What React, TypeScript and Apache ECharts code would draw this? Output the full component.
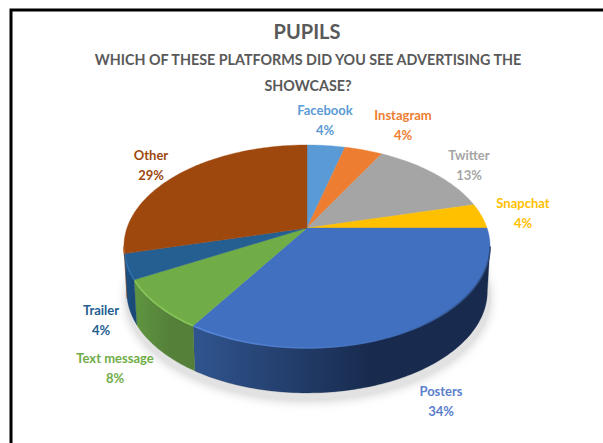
import React, { useEffect, useRef } from "react";
import * as echarts from "echarts";

const categories = ["Facebook", "Instagram", "Twitter", "Snapchat", "Posters", "Text message", "Trailer", "Other"];
const shares = [4, 4, 13, 4, 34, 8, 4, 29];
const faceColors = ["#5B9BD5", "#ED7D31", "#A5A5A5", "#FFC000", "#4070BF", "#70AD47", "#255E91", "#9E480E"];
const labelColors = ["#5B9BD5", "#ED7D31", "#A5A5A5", "#FFC000", "#5B80CC", "#70AD47", "#255E91", "#9E480E"];
const sideFrom = ["#4A80B0", "#C0662A", "#888888", "#D0A000", "#30558F", "#5F9640", "#1D5488", "#7C380B"];
const sideTo = ["#4A80B0", "#C0662A", "#888888", "#D0A000", "#182B4E", "#55803A", "#1A4A78", "#7C380B"];
const rimColors = ["#7DB5E8", "#F59A5C", "#C4C4C4", "#FFD24D", "#5C8BE0", "#8CCB5E", "#2F74B0", "#B85D20"];
const labelCenters = [[325, 120], [403, 125], [469, 165], [523, 213], [441, 401], [115, 368], [101, 320], [151, 165]];

// Perspective projection of the pie's unit disc onto the page
const CX = 307;
const CY = 228;
const RX = 180;
const RY = 98.1;
const TILT = 0.182;
const DEPTH = 45;
const BASE_SHRINK = 0.985;
const LABEL_FONT = "bold 13px Lato";

const project = (deg: number, drop = 0, shrink = 1): [number, number] => {
  const a = (deg * Math.PI) / 180;
  const w = 1 + TILT * Math.cos(a);
  return [CX + (shrink * RX * Math.sin(a)) / w, CY - (RY * Math.cos(a)) / w + drop];
};

const arc = (from: number, to: number, drop = 0, shrink = 1): [number, number][] => {
  const n = Math.max(2, Math.ceil(Math.abs(to - from)));
  const pts: [number, number][] = [];
  for (let i = 0; i <= n; i++) pts.push(project(from + ((to - from) * i) / n, drop, shrink));
  return pts;
};

const total = shares.reduce((s, v) => s + v, 0);
const FRONT_START = (Math.acos(-TILT) * 180) / Math.PI;
const FRONT_END = 360 - FRONT_START;

const renderSlice = (params: any, api: any) => {
  const i = params.dataIndex;
  const before = shares.slice(0, i).reduce((s, v) => s + v, 0);
  const start = (before / total) * 360;
  const end = ((before + api.value(0)) / total) * 360;
  const children: any[] = [];

  const frontA = Math.max(start, FRONT_START);
  const frontB = Math.min(end, FRONT_END);
  const hasSide = frontB > frontA;

  if (hasSide) {
    const upper = arc(frontA, frontB);
    const lower = arc(frontB, frontA, DEPTH, BASE_SHRINK);
    const fill = new echarts.graphic.LinearGradient(0, 0, 1, 0, [
      { offset: 0, color: sideFrom[i] },
      { offset: 0.6, color: sideTo[i] },
      { offset: 1, color: sideTo[i] },
    ]);
    children.push({
      type: "polygon",
      shape: { points: [...upper, ...lower] },
      style: { fill, stroke: sideTo[i], lineWidth: 0.3 },
    });
  }

  children.push({
    type: "polygon",
    shape: { points: [[CX, CY], ...arc(start, end)] },
    style: { fill: faceColors[i], stroke: faceColors[i], lineWidth: 0.4 },
  });

  // Bevel along the near edge: lit on the left, fading into shade on the right
  if (hasSide) {
    const stroke = new echarts.graphic.LinearGradient(1, 0, 0, 0, [
      { offset: 0, color: i === 4 ? "#2A4474" : rimColors[i] },
      { offset: 0.3, color: i === 4 ? "#3F6CBA" : rimColors[i] },
      { offset: 1, color: rimColors[i] },
    ]);
    children.push({
      type: "polyline",
      shape: { points: arc(frontA, frontB) },
      style: { fill: "none", stroke, lineWidth: 1.6, opacity: 0.85 },
    });
  }

  const [lx, ly] = labelCenters[i];
  children.push({
    type: "text",
    style: {
      text: `${categories[i]}\n${shares[i]}%`,
      x: lx,
      y: ly,
      align: "center",
      verticalAlign: "middle",
      fill: labelColors[i],
      font: LABEL_FONT,
      lineHeight: 20,
    },
  });

  return { type: "group", children };
};

export default function App() {
  const ref = useRef<HTMLDivElement>(null);

  useEffect(() => {
    document.body.style.margin = "0";
    const chart = echarts.init(ref.current!, null, { renderer: "svg" });
    chart.setOption({
      animation: false,
      backgroundColor: "#ffffff",
      title: [
        {
          text: "PUPILS",
          left: 302,
          top: 16,
          textAlign: "center",
          textStyle: { fontFamily: "Lato", fontWeight: "bold", fontSize: 20, color: "#595959" },
        },
        {
          text: "WHICH OF THESE PLATFORMS DID YOU SEE ADVERTISING THE\nSHOWCASE?",
          left: 303,
          top: 41,
          textAlign: "center",
          textStyle: { fontFamily: "Lato", fontWeight: "bold", fontSize: 14.3, lineHeight: 26, color: "#595959" },
        },
      ],
      graphic: [
        {
          type: "polyline",
          shape: { points: [[11, 443], [11, 10], [603, 10]] },
          style: { fill: "none", stroke: "#000000", lineWidth: 3 },
        },
        {
          type: "ellipse",
          z: -1,
          shape: { cx: CX + 1, cy: 297, rx: 183, ry: 103 },
          style: { fill: "#e2e2e2", shadowBlur: 10, shadowColor: "#d4d4d4", shadowOffsetY: 2 },
        },
      ],
      series: [
        {
          type: "custom",
          coordinateSystem: "none",
          renderItem: renderSlice,
          data: shares,
        },
      ],
    });
    return () => chart.dispose();
  }, []);

  return <div ref={ref} style={{ width: 603, height: 443 }} />;
}
